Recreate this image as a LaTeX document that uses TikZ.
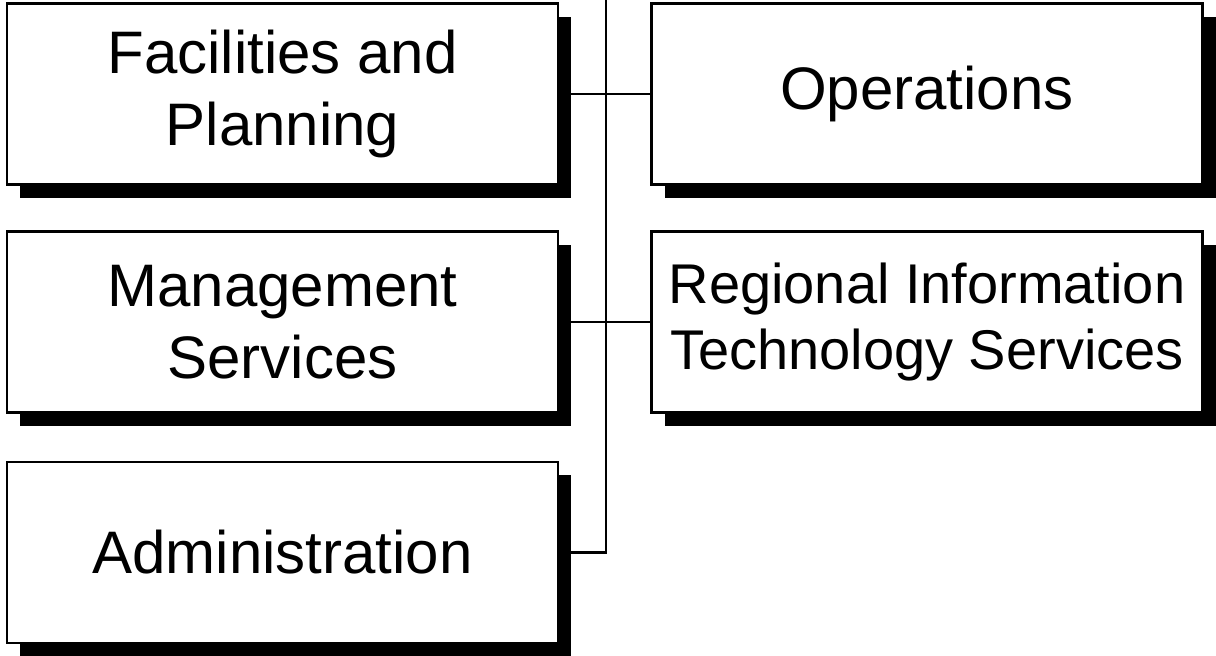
\documentclass[tikz,border=0pt]{standalone}
\usepackage{fontspec}
\setmainfont{Liberation Sans}
\usetikzlibrary{shadows}

\tikzset{
  unit/.style={draw=black, line width=1.2pt, fill=white, minimum width=275.5pt,
    minimum height=90.5pt, align=center, font=\fontsize{30}{36}\selectfont,
    drop shadow={shadow xshift=6.5pt, shadow yshift=-6.5pt, fill=black, opacity=1}},
  link/.style={line width=1.2pt}
}

\begin{document}
\begin{tikzpicture}[x=0.5pt,y=-0.5pt]
    \useasboundingbox (0,0) rectangle (1216,655);

    %Columna izquierda
    \node[unit] (fp) at (282.5,94) {Facilities and\\Planning};
    \node[unit] (ms) at (282.5,322) {Management\\Services};
    \node[unit] (adm) at (282.5,552.5) {Administration};

    %Columna derecha
    \node[unit] (ops) at (927,94) {Operations};
    \node[unit, font=\fontsize{28}{33}\selectfont] (rits) at (927,322)
        {Regional Information\\Technology Services};

    %Linea vertical
    \coordinate (top) at (606,0);
    \draw[link] (top) -- (top |- adm.east) -- (adm.east);

    %Conectores horizontales
    \draw[link] (fp.east) -- (ops.west);
    \draw[link] (ms.east) -- (rits.west);
\end{tikzpicture}
\end{document}
